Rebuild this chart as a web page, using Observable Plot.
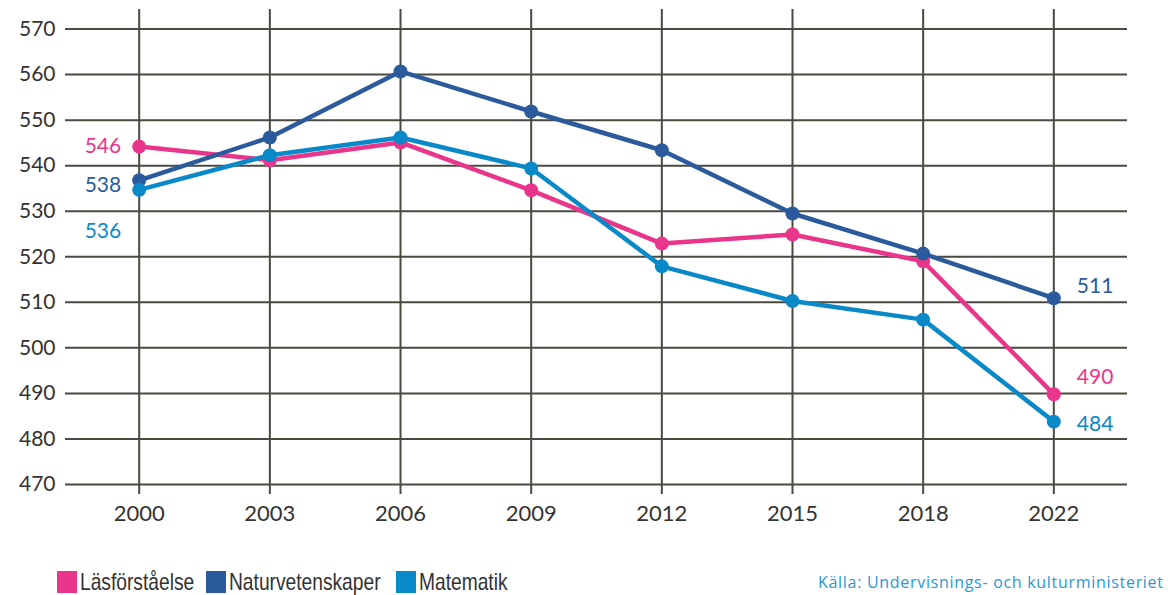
<!DOCTYPE html>
<html>
<head>
<meta charset="utf-8">
<script src="https://cdn.jsdelivr.net/npm/d3@7"></script>
<script src="https://cdn.jsdelivr.net/npm/@observablehq/plot@0.6"></script>
<style>
  html, body { margin: 0; padding: 0; background: #fff; }
  #wrap { position: relative; width: 1168px; height: 595px; overflow: hidden; }
  #chart { position: absolute; left: 0; top: 0; }
  .item { position: absolute; top: 571px; height: 22px; font-family: "Liberation Sans", Arial, sans-serif;
          font-size: 24px; color: #333; white-space: nowrap; }
  .item .sw { position: absolute; left: 0; top: 0; width: 20px; height: 22px; }
  .item .tx { position: absolute; left: 23px; top: -4px; display: inline-block; transform: scaleX(0.8);
              transform-origin: left center; line-height: 30px; }
  #source { position: absolute; left: 818px; top: 571px; font-family: "Open Sans", sans-serif;
            font-size: 16px; letter-spacing: 0.7px; color: #2a97d4; white-space: nowrap; }
</style>
</head>
<body>
<div id="wrap">
  <div id="chart"></div>
  <div id="legend"></div>
  <div id="source">Källa: Undervisnings- och kulturministeriet</div>
</div>
<script>
const years = ["2000", "2003", "2006", "2009", "2012", "2015", "2018", "2022"];
const seriesNames = ["Läsförståelse", "Naturvetenskaper", "Matematik"];
const seriesColors = ["#e9368b", "#2b5b9c", "#0a89c8"];
const lasforstaelse = [544.2, 541.2, 545.1, 534.6, 522.9, 524.9, 519.0, 489.8];
const naturvetenskaper = [536.8, 546.2, 560.7, 551.9, 543.4, 529.5, 520.7, 510.9];
const matematik = [534.7, 542.3, 546.2, 539.4, 517.9, 510.3, 506.2, 483.8];
const yTicks = [470, 480, 490, 500, 510, 520, 530, 540, 550, 560, 570];
const startLabels = ["546", "538", "536"];
const endLabels = ["490", "511", "484"];

const seriesValues = [lasforstaelse, naturvetenskaper, matematik];
const data = seriesNames.flatMap((s, i) => years.map((y, j) => ({series: s, year: y, value: seriesValues[i][j]})));

const font = "Lato, 'Open Sans', sans-serif";
const gridColor = "#4a4a40";

function labelMark(seriesIdx, yearIdx, text, dx, dy, anchor) {
  return Plot.text([{year: years[yearIdx], value: seriesValues[seriesIdx][yearIdx], t: text}], {
    x: "year", y: "value", text: "t", dx, dy, textAnchor: anchor,
    fill: seriesColors[seriesIdx], fontSize: 21, fontFamily: font
  });
}

const chart = Plot.plot({
  width: 1168,
  height: 540,
  marginTop: 9,
  marginBottom: 46,
  marginLeft: 65,
  marginRight: 41,
  style: {fontFamily: font, fontSize: "21px", color: "#333", background: "transparent"},
  x: {type: "point", domain: years, padding: 0.564, round: false, label: null, tickSize: 0, tickPadding: 11,
      tickFormat: d => d},
  y: {domain: [467.8, 574.3], ticks: yTicks, label: null, tickSize: 0, tickPadding: 10},
  color: {domain: seriesNames, range: seriesColors},
  marks: [
    Plot.ruleY(yTicks, {stroke: gridColor, strokeWidth: 2}),
    Plot.ruleX(years, {stroke: gridColor, strokeWidth: 2}),
    Plot.line(data, {x: "year", y: "value", z: "series", stroke: "series", strokeWidth: 4.5}),
    Plot.dot(data, {x: "year", y: "value", fill: "series", r: 7}),
    labelMark(0, 0, startLabels[0], -18, 0, "end"),
    labelMark(1, 0, startLabels[1], -18, 5, "end"),
    labelMark(2, 0, startLabels[2], -18, 41, "end"),
    labelMark(0, 7, endLabels[0], 23, -17, "start"),
    labelMark(1, 7, endLabels[1], 23, -12, "start"),
    labelMark(2, 7, endLabels[2], 23, 3, "start")
  ]
});
chart.querySelectorAll("g[aria-label='x-axis tick label'] text").forEach(t => t.setAttribute("font-size", "22"));
document.getElementById("chart").appendChild(chart);

const legend = document.getElementById("legend");
const legendLeft = [57, 206, 396];
seriesNames.forEach((s, i) => {
  const item = document.createElement("div");
  item.className = "item";
  item.style.left = legendLeft[i] + "px";
  const sw = document.createElement("div");
  sw.className = "sw";
  sw.style.background = seriesColors[i];
  const t = document.createElement("span");
  t.className = "tx";
  t.textContent = s;
  item.appendChild(sw);
  item.appendChild(t);
  legend.appendChild(item);
});
</script>
</body>
</html>
